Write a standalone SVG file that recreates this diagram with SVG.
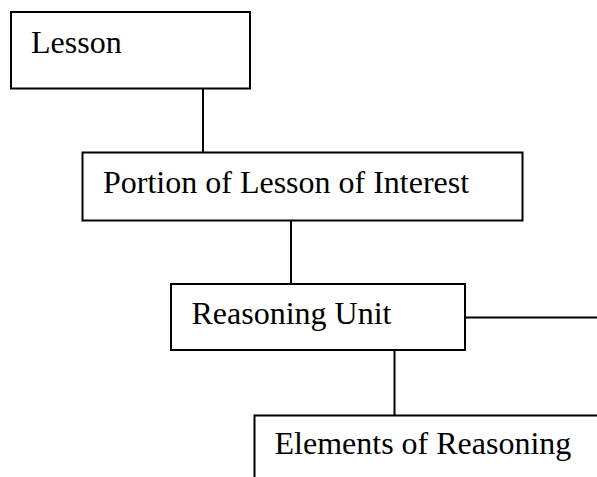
<svg xmlns="http://www.w3.org/2000/svg" width="597" height="477" viewBox="0 0 597 477">
<style>
.box{fill:#fff;stroke:#000;stroke-width:2}
.lbl{font-family:"Liberation Serif","Times New Roman",serif;font-size:32px;fill:#000}
.conn line{stroke:#000;stroke-width:2}
</style>
<rect width="597" height="477" fill="#fff"/>
<g class="conn" id="connectors">
<line x1="203" y1="88.5" x2="203" y2="152.5"/>
<line x1="291" y1="220.5" x2="291" y2="284"/>
<line x1="465" y1="317.5" x2="597" y2="317.5"/>
<line x1="394.5" y1="350" x2="394.5" y2="415.5"/>
</g>
<g id="lesson">
<rect class="box" x="11" y="12" width="239" height="76.5"/>
<text class="lbl" x="31" y="52.5">Lesson</text>
</g>
<g id="portion">
<rect class="box" x="82.5" y="152.5" width="440" height="68"/>
<text class="lbl" x="103" y="192.5">Portion of Lesson of Interest</text>
</g>
<g id="reasoning-unit">
<rect class="box" x="171" y="284" width="294" height="66"/>
<text class="lbl" x="191.5" y="324">Reasoning Unit</text>
</g>
<g id="elements">
<rect class="box" x="254.5" y="415.5" width="400" height="100"/>
<text class="lbl" x="274.5" y="454">Elements of Reasoning</text>
</g>
</svg>
